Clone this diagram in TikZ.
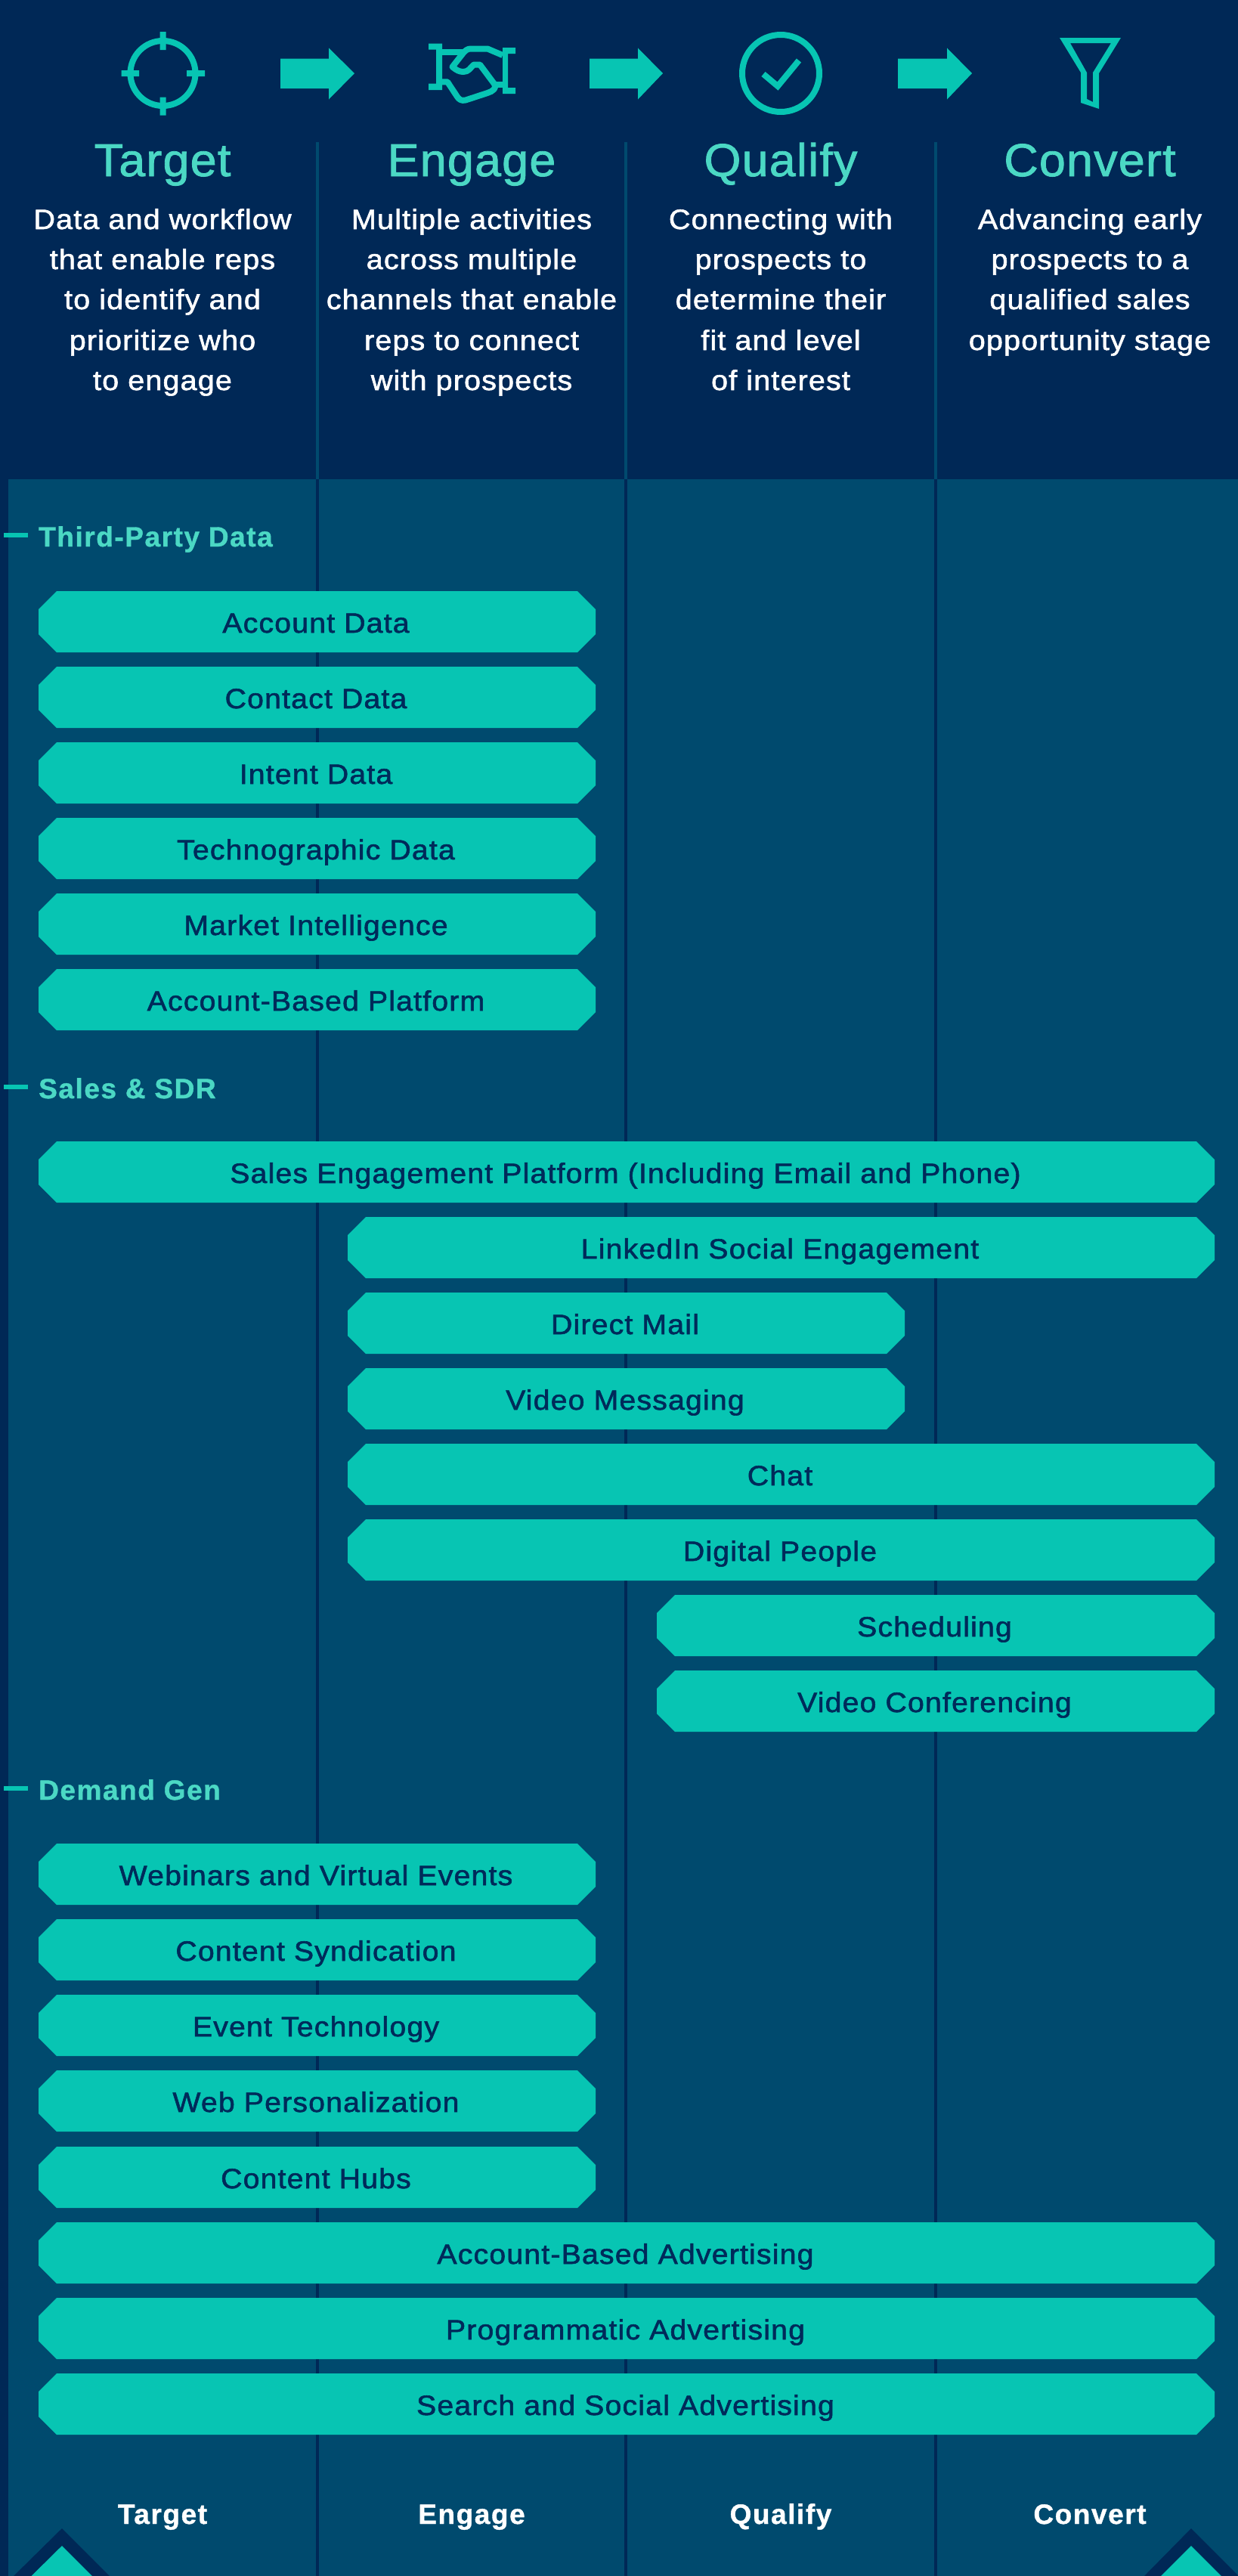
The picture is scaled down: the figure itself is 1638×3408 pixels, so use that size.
\documentclass[tikz,border=0pt]{standalone}
\usepackage{fontspec}
\setmainfont{Liberation Sans}
\newfontfamily\hdfont{Liberation Sans}[FakeBold=1.4,FakeStretch=1.03,LetterSpace=2]
\newfontfamily\barfont{Liberation Sans}[FakeStretch=1.06,LetterSpace=3.2,FakeBold=1.6]
\newfontfamily\bodyfont{Liberation Sans}[FakeStretch=1.07,LetterSpace=3,FakeBold=1.6]
\newfontfamily\boldfont{Liberation Sans Bold}[LetterSpace=4.2,FakeBold=1]
\definecolor{navy}{HTML}{002856}
\definecolor{panel}{HTML}{004A6E}
\definecolor{teal}{HTML}{07C5B3}
\definecolor{mint}{HTML}{4BD8C4}
\definecolor{bartext}{HTML}{002A5A}
\tikzset{
 barlabel/.style={text=bartext,font=\barfont\fontsize{37}{37}\selectfont,anchor=base,inner sep=0pt,xshift=-1.5pt},
 iconline/.style={draw=teal,line width=8pt},
 headtitle/.style={text=mint,font=\hdfont\fontsize{61}{61}\selectfont,anchor=base,inner sep=0pt},
 headbody/.style={text=white,font=\bodyfont\fontsize{37}{37}\selectfont,anchor=base,inner sep=0pt},
 seclabel/.style={text=mint,font=\boldfont\fontsize{37}{37}\selectfont,anchor=base west,inner sep=0pt},
 footlabel/.style={text=white,font=\boldfont\fontsize{37}{37}\selectfont,anchor=base,inner sep=0pt},
}
\newcommand{\barrow}[4]{%
 \fill[teal] (#1+24,#3) -- (#2-24,#3) -- (#2,#3+24) -- (#2,#3+57) -- (#2-24,#3+81) -- (#1+24,#3+81) -- (#1,#3+57) -- (#1,#3+24) -- cycle;
 \node[barlabel] at ({(#1+#2)/2},#3+55) {#4};}
\newcommand{\headlines}[6]{%
 \node[headbody] at (#1,303) {#2};
 \node[headbody] at (#1,356) {#3};
 \node[headbody] at (#1,409) {#4};
 \node[headbody] at (#1,463) {#5};
 \node[headbody] at (#1,516) {#6};}
\begin{document}
\begin{tikzpicture}[x=1pt,y=-1pt]
\useasboundingbox (0,0) rectangle (1638,3408);
\fill[navy] (0,0) rectangle (1638,3408);
\fill[panel] (11,634) rectangle (1638,3408);
\foreach \x in {420,828,1238}{
 \draw[panel,line width=4pt] (\x,188) -- (\x,634);
 \draw[navy,line width=4pt] (\x,634) -- (\x,3408);
}
% icons
\draw[iconline] (215.5,97) circle (43);
\fill[teal] (211.5,42) rectangle (219.5,66) (211.5,128.5) rectangle (219.5,152.5) (160.5,93) rectangle (184,101) (247,93) rectangle (271,101);
\foreach \a/\b/\c in {371/435/469,780/844/877,1188/1253/1286}{
 \fill[teal] (\a,77.5) -- (\b,77.5) -- (\b,63.5) -- (\c,97) -- (\b,131.5) -- (\b,117) -- (\a,117) -- cycle;
}
% handshake
\fill[teal] (567,57.7) rectangle (585,65.7) (567,110.7) rectangle (585,119) (577,57.7) rectangle (585,119)
 (665,63) rectangle (682,71) (665,116) rectangle (682,124) (665,63) rectangle (672,124);
\draw[iconline,line join=round] (585,69.3) -- (612,69.3);
\draw[iconline,line join=round] (665,73) -- (645,64.5) -- (623,64.5) .. controls (618,64.5) and (616,67) .. (613,70) -- (598.5,88.5) .. controls (604,93) and (608,95) .. (613,95) .. controls (620,95) and (622,90) .. (627,85.5) -- (635,85.5) -- (654,111) .. controls (658,116) and (652,121) .. (645,123) -- (616,132.5) .. controls (610,134) and (607,131) .. (605,128) -- (592,108.3) -- (585,108.3);
\draw[iconline] (656,112) -- (665,112);
\draw[iconline] (1033,97) circle (51);
\draw[iconline] (1010,98) -- (1029,114) -- (1057,80);
\fill[teal,even odd rule] (1402,50) -- (1483,50) -- (1454,97) -- (1454,144) -- (1430,136) -- (1430,96) -- cycle (1416,57) -- (1470,57) -- (1446,96) -- (1446,135) -- (1438,131) -- (1438,96) -- cycle;
% headers
\node[headtitle] at (215,233) {Target};
\node[headtitle] at (624,233) {Engage};
\node[headtitle] at (1033,233) {Qualify};
\node[headtitle] at (1442,233) {Convert};
\headlines{215}{Data and workflow}{that enable reps}{to identify and}{prioritize who}{to engage}
\headlines{624}{Multiple activities}{across multiple}{channels that enable}{reps to connect}{with prospects}
\headlines{1033}{Connecting with}{prospects to}{determine their}{fit and level}{of interest}
\headlines{1442}{Advancing early}{prospects to a}{qualified sales}{opportunity stage}{}
% sections
\foreach \y/\t in {708/Third-Party Data,1438/Sales \& SDR,2366/Demand Gen}{
 \fill[teal] (5,\y-3) rectangle (37,\y+3);
 \node[seclabel] at (51,\y+15) {\t};
}
\barrow{51}{788}{782}{Account Data}
\barrow{51}{788}{882}{Contact Data}
\barrow{51}{788}{982}{Intent Data}
\barrow{51}{788}{1082}{Technographic Data}
\barrow{51}{788}{1182}{Market Intelligence}
\barrow{51}{788}{1282}{Account-Based Platform}
\barrow{51}{1607}{1510}{Sales Engagement Platform (Including Email and Phone)}
\barrow{460}{1607}{1610}{LinkedIn Social Engagement}
\barrow{460}{1197}{1710}{Direct Mail}
\barrow{460}{1197}{1810}{Video Messaging}
\barrow{460}{1607}{1910}{Chat}
\barrow{460}{1607}{2010}{Digital People}
\barrow{869}{1607}{2110}{Scheduling}
\barrow{869}{1607}{2210}{Video Conferencing}
\barrow{51}{788}{2439}{Webinars and Virtual Events}
\barrow{51}{788}{2539}{Content Syndication}
\barrow{51}{788}{2639}{Event Technology}
\barrow{51}{788}{2739}{Web Personalization}
\barrow{51}{788}{2840}{Content Hubs}
\barrow{51}{1607}{2940}{Account-Based Advertising}
\barrow{51}{1607}{3040}{Programmatic Advertising}
\barrow{51}{1607}{3140}{Search and Social Advertising}
% footer
\node[footlabel] at (215,3339) {Target};
\node[footlabel] at (624,3339) {Engage};
\node[footlabel] at (1033,3339) {Qualify};
\node[footlabel] at (1442,3339) {Convert};
\fill[navy] (18,3408) -- (82,3345) -- (145,3408) -- cycle (1514,3408) -- (1576,3345) -- (1638,3407) -- (1638,3408) -- cycle;
\fill[teal] (41.5,3408) -- (82,3368) -- (122,3408) -- cycle (1536,3408) -- (1576,3368) -- (1616,3408) -- cycle;
\end{tikzpicture}
\end{document}
